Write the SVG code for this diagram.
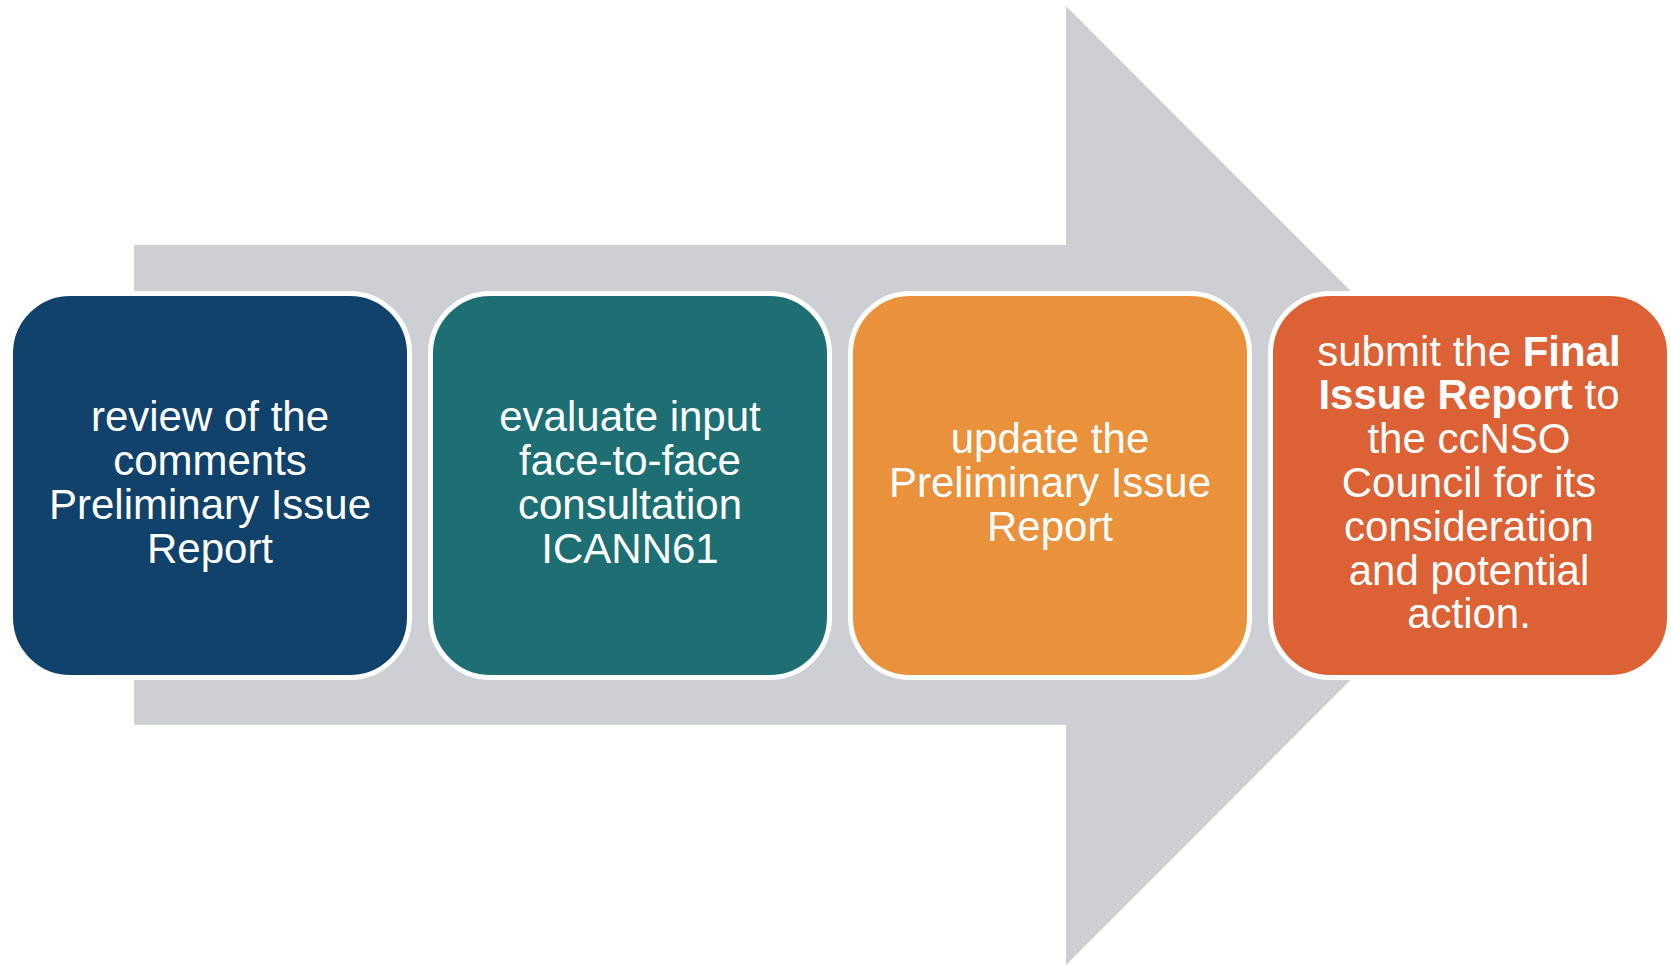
<svg xmlns="http://www.w3.org/2000/svg" width="1671" height="966" viewBox="0 0 1671 966">
<style>
.box{stroke:#ffffff;stroke-width:5}
.t{font-family:"Liberation Sans",Arial,sans-serif;font-size:42px;fill:#ffffff;text-anchor:middle}
.b{font-weight:bold}
</style>
<rect width="1671" height="966" fill="#ffffff"/>
<g id="arrow">
<polygon points="134,245 1066,245 1066,6 1545,485.5 1066,965 1066,725 134,725" fill="#CCCFD4"/>
</g>
<g id="connectors"></g>
<g id="node1">
<rect class="box" x="10.5" y="293.5" width="399" height="384" rx="60" fill="#10426B"/>
<text class="t" x="210"><tspan x="210" y="431">review of the</tspan><tspan x="210" y="475">comments</tspan><tspan x="210" y="519">Preliminary Issue</tspan><tspan x="210" y="563">Report</tspan></text>
</g>
<g id="node2">
<rect class="box" x="430.5" y="293.5" width="399" height="384" rx="60" fill="#1D6F73"/>
<text class="t" x="630"><tspan x="630" y="431">evaluate input</tspan><tspan x="630" y="475">face-to-face</tspan><tspan x="630" y="519">consultation</tspan><tspan x="630" y="563">ICANN61</tspan></text>
</g>
<g id="node3">
<rect class="box" x="850.5" y="293.5" width="399" height="384" rx="60" fill="#E9913B"/>
<text class="t" x="1050"><tspan x="1050" y="453">update the</tspan><tspan x="1050" y="497">Preliminary Issue</tspan><tspan x="1050" y="541">Report</tspan></text>
</g>
<g id="node4">
<rect class="box" x="1270.5" y="293.5" width="399" height="384" rx="60" fill="#DC6135"/>
<text class="t" x="1469"><tspan x="1469" y="366">submit the <tspan class="b">Final</tspan></tspan><tspan x="1469" y="409"><tspan class="b">Issue Report</tspan> to</tspan><tspan x="1469" y="453">the ccNSO</tspan><tspan x="1469" y="497">Council for its</tspan><tspan x="1469" y="541">consideration</tspan><tspan x="1469" y="585">and potential</tspan><tspan x="1469" y="628">action.</tspan></text>
</g>
</svg>
